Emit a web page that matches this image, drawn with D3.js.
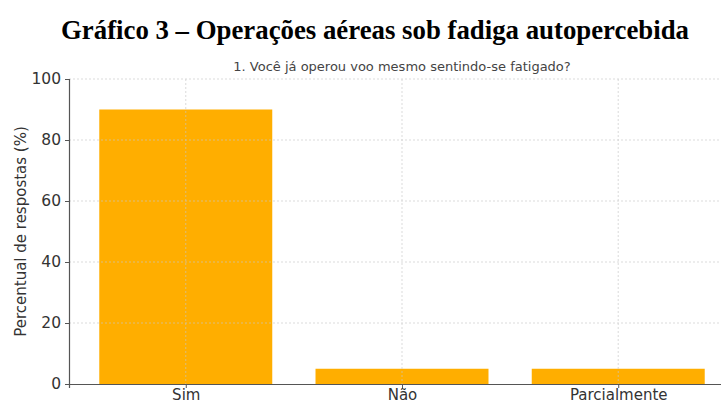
<!DOCTYPE html>
<html><head><meta charset="utf-8">
<script src="https://cdn.jsdelivr.net/npm/d3@7"></script>
<style>body{margin:0;background:#fff}svg{display:block}</style>
</head><body>
<svg id="c" width="721" height="403"></svg>
<script>
const title = "Gráfico 3 – Operações aéreas sob fadiga autopercebida";
const subtitle = "1. Você já operou voo mesmo sentindo-se fatigado?";
const yLabel = "Percentual de respostas (%)";
const categories = ["Sim", "Não", "Parcialmente"];
const values = [90, 5, 5];
const yTicks = [0, 20, 40, 60, 80, 100];

const svg = d3.select("#c");
const x = d3.scaleLinear().domain([-0.54, categories.length - 1 + 0.54]).range([69, 735]);
const y = d3.scaleLinear().domain([0, 100]).range([384, 79]);
const bw = (x(0.8) - x(0));

svg.append("text").attr("x", 375).attr("y", 39).attr("text-anchor", "middle")
  .attr("font-family", "Liberation Serif, Times New Roman, serif").attr("font-weight", "bold")
  .attr("font-size", 26.8).attr("fill", "#000").text(title);

svg.append("text").attr("x", (x.range()[0] + x.range()[1]) / 2).attr("y", 71).attr("text-anchor", "middle")
  .attr("font-family", "DejaVu Sans, sans-serif").attr("font-size", 13).attr("fill", "#444").text(subtitle);

// bars
svg.append("g").selectAll("rect").data(values).join("rect")
  .attr("x", (d, i) => x(i) - bw / 2).attr("width", bw)
  .attr("y", d => y(d)).attr("height", d => y(0) - y(d))
  .attr("fill", "#ffae00");

// grid
const g = svg.append("g").attr("stroke", "#c8c8c8").attr("stroke-width", 0.8).attr("stroke-dasharray", "2,2").attr("opacity", 0.8);
g.selectAll(".h").data(yTicks.slice(1)).join("line")
  .attr("x1", 69).attr("x2", 735).attr("y1", d => y(d)).attr("y2", d => y(d));
g.selectAll(".v").data(categories).join("line")
  .attr("x1", (d, i) => x(i)).attr("x2", (d, i) => x(i)).attr("y1", y(100)).attr("y2", y(0));

// axes
const yAxis = d3.axisLeft(y).tickValues(yTicks).tickSize(4).tickPadding(4);
const ya = svg.append("g").attr("transform", "translate(69,0)").call(yAxis);
ya.select(".domain").attr("stroke", "#555").attr("stroke-width", 1.2);
ya.selectAll(".tick line").attr("stroke", "#555");
ya.selectAll("text").attr("font-family", "DejaVu Sans, sans-serif").attr("font-size", 15.5).attr("fill", "#333");

const xAxis = d3.axisBottom(x).tickValues(d3.range(categories.length)).tickFormat(i => categories[i]).tickSize(4).tickPadding(1);
const xa = svg.append("g").attr("transform", `translate(0,${y(0)})`).call(xAxis);
xa.select(".domain").attr("stroke", "#555").attr("stroke-width", 1.2);
xa.selectAll(".tick line").attr("stroke", "#555");
xa.selectAll("text").attr("font-family", "DejaVu Sans, sans-serif").attr("font-size", 15).attr("fill", "#333");

svg.append("text").attr("transform", `translate(26,${(y(0) + y(100)) / 2}) rotate(-90)`)
  .attr("text-anchor", "middle").attr("font-family", "DejaVu Sans, sans-serif").attr("font-size", 15)
  .attr("fill", "#333").text(yLabel);
</script>
</body></html>
